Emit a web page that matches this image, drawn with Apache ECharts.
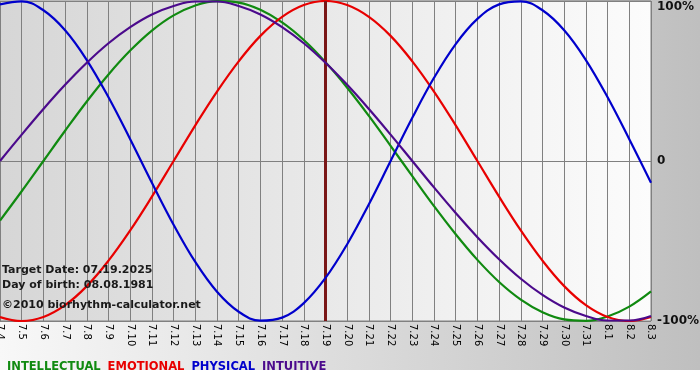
<!DOCTYPE html>
<html>
<head>
<meta charset="utf-8">
<script src="https://cdn.jsdelivr.net/npm/echarts@6/dist/echarts.min.js"></script>
<style>html,body{margin:0;padding:0;background:#fff;}#c{width:700px;height:380px;}</style>
</head>
<body>
<div id="c"></div>
<script>
const dates = ['7.4','7.5','7.6','7.7','7.8','7.9','7.10','7.11','7.12','7.13','7.14','7.15','7.16','7.17','7.18','7.19','7.20','7.21','7.22','7.23','7.24','7.25','7.26','7.27','7.28','7.29','7.30','7.31','8.1','8.2','8.3'];
const intellectual = [-0.372,-0.189,0,0.189,0.372,0.541,0.690,0.815,0.910,0.972,0.999,0.990,0.945,0.866,0.756,0.618,0.458,0.282,0.095,-0.095,-0.282,-0.458,-0.618,-0.756,-0.866,-0.945,-0.990,-0.999,-0.972,-0.910,-0.815];
const emotional = [-0.975,-1,-0.975,-0.901,-0.782,-0.623,-0.434,-0.223,0,0.223,0.434,0.623,0.782,0.901,0.975,1,0.975,0.901,0.782,0.623,0.434,0.223,0,-0.223,-0.434,-0.623,-0.782,-0.901,-0.975,-1,-0.975];
const physical = [0.979,0.998,0.942,0.817,0.631,0.398,0.136,-0.136,-0.398,-0.631,-0.817,-0.942,-0.998,-0.979,-0.888,-0.731,-0.520,-0.270,0,0.270,0.520,0.731,0.888,0.979,0.998,0.942,0.817,0.631,0.398,0.136,-0.136];
const intuitive = [0,0.165,0.325,0.476,0.614,0.736,0.837,0.916,0.969,0.997,0.997,0.969,0.916,0.837,0.736,0.614,0.476,0.325,0.165,0,-0.165,-0.325,-0.476,-0.614,-0.736,-0.837,-0.916,-0.969,-0.997,-0.997,-0.969];
const targetDate = '7.19';
const yTickLabels = {'-1':'-100%','0':'0','1':'100%'};
const infoLines = ['Target Date: 07.19.2025','Day of birth: 08.08.1981','\u00a92010 biorhythm-calculator.net'];
const seriesNames = ['INTELLECTUAL','EMOTIONAL','PHYSICAL','INTUITIVE'];
const seriesColors = ['#108a10','#e80000','#0000cc','#4b0a8c'];

const FONT = 'DejaVu Sans';
const chart = echarts.init(document.getElementById('c'), null, {renderer:'canvas'});
const valuesList = [intellectual, emotional, physical, intuitive];
const series = seriesNames.map((n,i)=>({
  name:n, type:'line', data:valuesList[i], smooth:0.4, symbol:'none',
  lineStyle:{color:seriesColors[i], width:2.2}, itemStyle:{color:seriesColors[i]},
  silent:true, animation:false, z:3+i
}));
series[1].markLine = {
  silent:true, symbol:['none','none'], label:{show:false}, animation:false,
  lineStyle:{color:'#7a1616', width:3, type:'solid'},
  data:[{xAxis:targetDate}]
};
chart.setOption({
  animation:false,
  backgroundColor:'#ffffff',
  graphic:[
    {type:'rect', z:-10, silent:true, shape:{x:0,y:0,width:700,height:370},
     style:{fill:new echarts.graphic.LinearGradient(0,0,1,0,[{offset:0,color:'#f8f8f8'},{offset:1,color:'#bfbfbf'}])}},
  ].concat(infoLines.map((t,i)=>({
    type:'text', z:100, silent:true, left:2, top:[265,280,300][i],
    style:{text:t, font:'bold 11px "'+FONT+'"', fill:'#1a1a1a'}
  }))),
  grid:{left:0, right:49, top:1, bottom:59, show:true, containLabel:false, outerBoundsMode:'none',
    borderColor:'#808080', borderWidth:1,
    backgroundColor:new echarts.graphic.LinearGradient(0,0,1,0,[{offset:0,color:'#d6d6d6'},{offset:1,color:'#fcfcfc'}])},
  legend:{left:-3, top:355, icon:'none', itemWidth:0, itemGap:2, selectedMode:false,
    textStyle:{fontFamily:FONT, fontWeight:'bold', fontSize:11.5, padding:[0,0,0,0]},
    data:seriesNames.map((n,i)=>({name:n, textStyle:{color:seriesColors[i]}}))},
  xAxis:{type:'category', data:dates, boundaryGap:false,
    axisLine:{show:true, lineStyle:{color:'#808080'}}, axisTick:{show:false},
    axisLabel:{rotate:-90, interval:0, fontFamily:FONT, fontSize:10, color:'#000', margin:3},
    splitLine:{show:true, interval:0, lineStyle:{color:'#808080', width:1}}},
  yAxis:{type:'value', min:-1, max:1, interval:1, position:'right',
    axisLine:{show:false}, axisTick:{show:false},
    splitLine:{show:true, lineStyle:{color:'#808080', width:1}},
    axisLabel:{margin:6, fontFamily:FONT, fontWeight:'bold', fontSize:12, color:'#111',
      verticalAlignMaxLabel:'top',
      formatter:v=>yTickLabels[String(v)]}},
  series:series
});
</script>
</body>
</html>
